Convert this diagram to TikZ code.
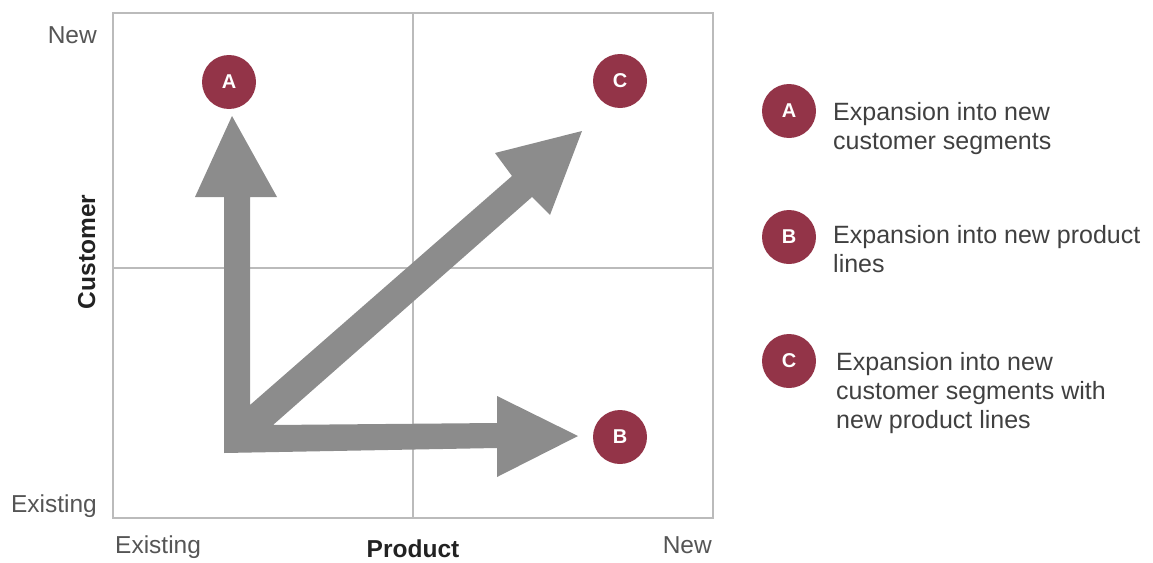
\documentclass[tikz,border=0pt]{standalone}
\usepackage{fontspec}
\setmainfont{Liberation Sans}
\definecolor{badgered}{HTML}{933448}
\definecolor{arrowgray}{HTML}{8C8C8C}
\definecolor{gridgray}{HTML}{BBBBBB}
\definecolor{labgray}{HTML}{555555}
\definecolor{textgray}{HTML}{404040}
\definecolor{titlegray}{HTML}{222222}
\begin{document}
\begin{tikzpicture}[x=1pt,y=-1pt,
  grid/.style={draw=gridgray, line width=2pt},
  badge/.style={circle, fill=badgered, minimum size=54pt, inner sep=0pt, text=white,
    font=\fontsize{20}{20}\selectfont\bfseries},
  axislab/.style={text=labgray, inner sep=0pt, font=\fontsize{24.5}{29}\selectfont},
  axistitle/.style={text=titlegray, inner sep=0pt, font=\fontsize{24.5}{29}\selectfont\bfseries},
  legendtext/.style={text=textgray, inner sep=0pt, align=left, anchor=north west,
    font=\fontsize{25}{29}\selectfont}
]
\useasboundingbox (0,0) rectangle (1153,562);
% grid
\draw[grid] (113,13) rectangle (713,518);
\draw[grid] (413,13) -- (413,518);
\draw[grid] (113,268) -- (713,268);
% axis labels
\node[axislab, anchor=base east] (ynew) at (97,43) {New};
\node[axislab, anchor=base east] (yex) at (97,512) {Existing};
\node[axislab, anchor=base west] (xex) at (115,553) {Existing};
\node[axislab, anchor=base east] (xnew) at (712,553) {New};
\node[axistitle, anchor=base] (xtitle) at (413,557) {Product};
\node[axistitle, anchor=base, rotate=90] (ytitle) at (95,252) {Customer};
% badges in the matrix
\node[badge] (A) at (229,82) {A};
\node[badge] (C) at (620,81) {C};
\node[badge] (B) at (620,437) {B};
% arrows
\fill[arrowgray] (224,453) -- (224,197) -- (195,197) -- (232,116) -- (277,197) -- (250,197)
  -- (250,405) -- (512,176) -- (495,153) -- (582,131) -- (550,215) -- (532,197)
  -- (273,425) -- (497,423) -- (497,396) -- (578,436) -- (497,477) -- (497,448) -- cycle;
% legend
\node[badge] (LA) at (789,111) {A};
\node[badge] (LB) at (789,237) {B};
\node[badge] (LC) at (789,361) {C};
\node[legendtext] (TA) at (833,102) {Expansion into new\\customer segments};
\node[legendtext] (TB) at (833,225) {Expansion into new product\\lines};
\node[legendtext] (TC) at (836,352) {Expansion into new\\customer segments with\\new product lines};
\end{tikzpicture}
\end{document}
